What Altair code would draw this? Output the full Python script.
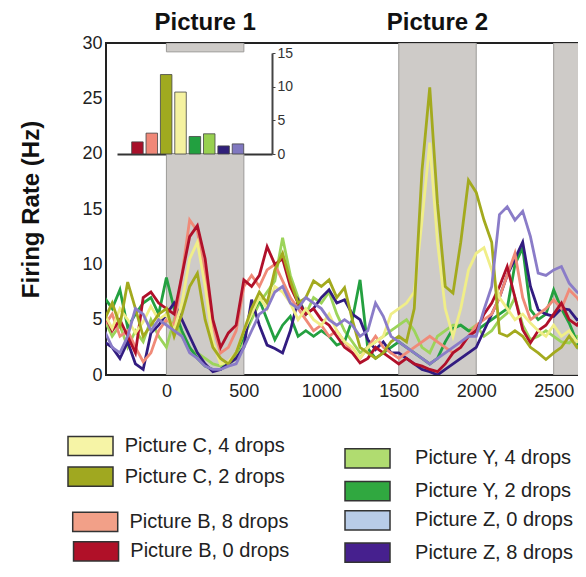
import altair as alt
import pandas as pd

# ---------------- data ----------------
t_ms = list(range(-400, 2701, 50))

c4 = [5.5, 4.2, 6.0, 5.0, 3.8, 4.8, 6.2, 5.0,
      5.5, 4.0, 6.5, 10.5, 12.0, 8.0, 3.0, 1.0, 1.2, 2.0,
      4.0, 5.5, 7.0, 6.0, 8.0, 7.5, 6.5, 5.0, 6.0, 5.0,
      4.5, 5.5, 4.0, 3.0, 2.5, 1.5, 2.5, 3.0, 3.5, 5.5,
      6.0, 6.5, 7.5, 14.0, 21.0, 12.0, 6.0, 3.5, 6.0, 9.5,
      11.0, 11.5, 9.5, 7.0, 6.0, 5.0, 5.5, 4.7, 4.0, 3.5,
      4.5, 3.5, 4.0, 3.0, 3.5]
c2 = [5.0, 6.5, 4.5, 8.4, 6.0, 3.5, 4.5, 5.5,
      6.0, 3.5, 5.5, 8.0, 9.2, 5.0, 2.5, 1.5, 1.0, 2.0,
      4.0, 6.0, 7.5, 6.5, 9.5, 11.0, 8.5, 6.5, 7.0, 8.5,
      8.0, 8.6, 7.0, 7.9, 5.0, 2.5, 2.0, 1.5, 2.0, 3.0,
      3.5, 3.0, 6.0, 18.5, 26.0, 15.5, 8.0, 7.4, 12.0, 17.6,
      16.5, 14.0, 12.0, 3.8, 3.5, 4.0, 3.5, 2.5, 2.0, 1.4,
      2.0, 2.5, 3.5, 2.5, 3.0]
b8 = [4.5, 5.5, 3.5, 4.0, 2.5, 1.2, 2.0, 4.0,
      5.0, 4.5, 9.0, 14.0, 13.0, 9.0, 4.5, 2.0, 2.5, 4.0,
      8.0, 9.0, 8.0, 9.5, 10.0, 8.5, 7.0, 6.0, 5.0, 4.0,
      4.5, 3.5, 4.0, 3.0, 2.0, 1.5, 2.5, 3.5, 2.5, 2.0,
      1.5, 2.0, 2.5, 3.0, 3.5, 3.0, 2.5, 2.0, 2.5, 3.5,
      4.5, 5.0, 5.5, 7.0, 9.0, 11.0, 7.0, 5.0, 5.5, 6.0,
      6.8, 6.0, 7.7, 7.0, 6.0]
b0 = [5.5, 4.0, 5.0, 3.5, 2.0, 7.0, 7.5, 6.5,
      6.0, 5.5, 9.0, 12.5, 13.5, 10.5, 5.0, 2.5, 3.8, 4.5,
      8.6, 8.0, 9.0, 11.6, 10.0, 10.5, 8.0, 6.5, 5.5, 6.0,
      5.0, 4.5, 3.5, 2.5, 2.0, 1.1, 1.5, 2.5, 2.0, 1.5,
      1.0, 1.5, 1.0, 0.8, 0.5, 0.3, 1.0, 2.0, 2.5, 3.5,
      4.0, 5.5, 6.5, 8.0, 9.8, 7.0, 4.1, 2.9, 4.0, 4.5,
      5.5, 6.5, 5.0, 4.5, 5.5]
y4 = [5.0, 3.5, 4.5, 2.5, 4.0, 3.0, 5.0, 3.5,
      2.5, 5.0, 3.5, 2.3, 2.0, 1.5, 1.0, 0.8, 1.0, 1.5,
      3.5, 5.0, 6.5, 7.5, 8.5, 12.4, 9.0, 7.0, 5.5, 7.0,
      6.5, 7.5, 5.5, 4.0, 3.0, 2.0, 2.5, 3.0, 3.5, 4.0,
      4.5, 5.0, 4.0, 2.5, 2.0, 3.5, 4.0, 4.5, 4.5, 4.0,
      4.5, 3.5, 4.0, 5.0, 5.6, 7.0, 4.5, 3.2, 3.5, 4.0,
      3.5, 3.0, 2.9, 3.5, 3.0]
y2 = [7.0, 6.0, 7.7, 4.3, 5.5, 6.5, 7.0, 5.5,
      8.8, 6.0, 4.0, 2.5, 1.5, 0.8, 0.5, 0.5, 1.0, 2.0,
      3.5, 5.5, 6.8, 5.0, 3.2, 4.5, 5.3, 3.5, 4.0, 3.5,
      4.0, 3.5, 2.7, 3.0, 5.0, 8.6, 2.4, 1.5, 2.0, 2.5,
      3.0, 2.5, 2.0, 1.5, 1.0, 1.5, 3.0, 4.2, 4.5, 4.0,
      4.0, 4.5, 5.0, 5.5, 6.0, 10.0, 11.5, 5.9, 5.0, 5.5,
      7.7, 6.0, 4.7, 3.0, 0.7]
z0 = [4.0, 2.5, 2.0, 3.5, 6.0, 5.5, 4.0, 5.0,
      4.5, 4.0, 3.5, 2.0, 1.5, 0.8, 0.5, 0.5, 0.8, 1.0,
      2.5, 4.0, 5.5, 6.0, 7.5, 8.0, 6.5, 6.0, 7.0, 6.5,
      6.0, 5.0, 4.5, 5.0, 4.5, 3.5, 4.0, 6.5, 5.3, 3.5,
      3.0, 2.5, 2.0, 1.5, 1.0, 1.5, 2.0, 2.5, 3.0, 3.5,
      3.5, 5.9, 8.0, 14.5, 15.2, 14.0, 14.8, 12.5, 9.2, 9.0,
      9.5, 9.8, 8.3, 7.5, 7.1]
z8 = [3.0, 2.5, 1.5, 3.0, 1.0, 0.5, 3.8, 4.5,
      5.5, 6.5, 5.0, 3.5, 2.0, 1.0, 0.3, 0.5, 1.0, 1.5,
      2.5, 6.8, 4.5, 2.7, 2.4, 2.0, 4.0, 6.8, 5.5, 6.0,
      7.0, 7.7, 6.5, 6.8, 5.5, 5.0, 3.2, 2.3, 3.0, 2.0,
      2.0, 1.5, 1.0, 0.5, 0.3, 0.0, 0.5, 1.0, 1.5, 2.0,
      2.5, 4.0, 5.5, 7.0, 9.0, 10.5, 12.0, 8.0, 5.9, 5.5,
      5.3, 6.0, 5.9, 5.0, 5.3]

series_names = ["Picture Y, 4 drops", "Picture Y, 2 drops", "Picture Z, 8 drops",
                "Picture B, 8 drops", "Picture B, 0 drops", "Picture C, 4 drops",
                "Picture C, 2 drops", "Picture Z, 0 drops"]
series_values = [y4, y2, z8, b8, b0, c4, c2, z0]
line_colors = ["#9cd45a", "#24a040", "#321c80", "#f08a78", "#b0102a", "#f0ee88",
               "#a3aa1e", "#8a7cc8"]

# inset bar chart (mean response)
bar_names = ["Picture B, 0 drops", "Picture B, 8 drops", "Picture C, 2 drops",
             "Picture C, 4 drops", "Picture Y, 2 drops", "Picture Y, 4 drops",
             "Picture Z, 8 drops", "Picture Z, 0 drops"]
bar_values = [1.8, 3.1, 11.8, 9.2, 2.6, 3.0, 1.2, 1.5]
bar_colors = ["#a8102a", "#f08878", "#a0aa20", "#f5f2a0", "#22a040", "#98d050",
              "#30207a", "#8078c0"]

# stimulus periods (ms)
shade_start = [0, 0, 1500, 2500]
shade_end = [500, 500, 2000, 2700]
shade_low = [0, 29.2, 0, 0]
shade_high = [20, 30, 30, 30]

title_text = ["Picture 1", "Picture 2"]
title_at = [250, 1750]

legend_labels = ["Picture C, 4 drops", "Picture C, 2 drops", "Picture B, 8 drops",
                 "Picture B, 0 drops", "Picture Y, 4 drops", "Picture Y, 2 drops",
                 "Picture Z, 0 drops", "Picture Z, 8 drops"]
legend_colors = ["#f6f4a6", "#a0a820", "#f2a088", "#b01028", "#b0dc70", "#30a840",
                 "#b8cce8", "#46208e"]

# ---------------- layout ----------------
legend_col = [0, 0, 0, 0, 1, 1, 1, 1]
legend_row = [0, 0.99, 2.45, 3.4, 0.4, 1.455, 2.4, 3.44]
legend_indent = [0, 0, 0.017, 0.02, 0, 0, 0, 0]
legend_text_gap = [0.205, 0.205, 0.205, 0.205, 0.253, 0.253, 0.253, 0.253]

FONT = "Liberation Sans"

# ---------------- tables ----------------
rows = []
for name, vals in zip(series_names, series_values):
    for t, v in zip(t_ms, vals):
        rows.append({"t": t, "rate": v, "series": name})
lines_df = pd.DataFrame(rows)

shade_df = pd.DataFrame({"x": shade_start, "x2": shade_end, "y": shade_low, "y2": shade_high})
title_df = pd.DataFrame({"x": title_at, "label": title_text})
bars_df = pd.DataFrame({"cond": bar_names, "rate": bar_values,
                        "pos": [i + 1 for i in range(len(bar_names))]})

leg_df = pd.DataFrame({
    "label": legend_labels,
    "color": legend_colors,
    "sx": [c + i for c, i in zip(legend_col, legend_indent)],
    "sx2": [c + i + 0.1625 for c, i in zip(legend_col, legend_indent)],
    "tx": [c + i + g for c, i, g in zip(legend_col, legend_indent, legend_text_gap)],
    "ry": [r - 0.31 for r in legend_row],
    "ry2": [r + 0.31 for r in legend_row],
    "row": legend_row,
})

W, H = 472, 332

xs = alt.Scale(domain=[-390, 2657], nice=False, zero=False)
ys = alt.Scale(domain=[0, 30], nice=False)

shade = alt.Chart(shade_df).mark_rect(
    fill="#cecbc8", stroke="#9c9a98", strokeWidth=1, clip=True
).encode(
    x=alt.X("x:Q", scale=xs, axis=alt.Axis(
        values=[0, 500, 1000, 1500, 2000, 2500], format="d", title=None, grid=False,
        domain=False, ticks=False, tickSize=0, labelFontSize=18, labelFont=FONT,
        labelColor="#222", labelPadding=7, labelFlush=False)),
    x2="x2:Q",
    y=alt.Y("y:Q", scale=ys, axis=alt.Axis(
        values=[0, 5, 10, 15, 20, 25, 30], title="Firing Rate (Hz)", grid=False,
        domain=False, ticks=False, tickSize=0, labelFontSize=18, labelFont=FONT,
        labelColor="#222", labelPadding=4, titleFontSize=24, titleFont=FONT,
        titleFontWeight="bold", titleColor="#111", titleX=-63)),
    y2="y2:Q",
)

lines = alt.Chart(lines_df).mark_line(strokeWidth=2.8, clip=True).encode(
    x=alt.X("t:Q", scale=xs),
    y=alt.Y("rate:Q", scale=ys),
    color=alt.Color("series:N", scale=alt.Scale(domain=series_names, range=line_colors),
                    legend=None),
)

titles = alt.Chart(title_df).mark_text(
    fontSize=24, font=FONT, fontWeight="bold", color="#111", dy=-20, baseline="middle"
).encode(
    x=alt.X("x:Q", scale=xs),
    y=alt.value(0),
    text="label:N",
)

main = alt.layer(shade, lines, titles)

inset = alt.Chart(bars_df).mark_bar(stroke="#444", strokeWidth=0.8, width=11.5).encode(
    x=alt.X("pos:Q",
            scale=alt.Scale(domain=[-0.074, 10.02], range=[11, 166], nice=False, zero=False),
            axis=alt.Axis(orient="top", offset=-111, labels=False, ticks=False, title=None,
                          domain=True, domainColor="#333", domainWidth=2, grid=False)),
    y=alt.Y("rate:Q", scale=alt.Scale(domain=[0, 15], range=[111, 10], nice=False),
            axis=alt.Axis(orient="right", offset=-(W - 166), values=[0, 5, 10, 15], title=None,
                          grid=False, domainColor="#444", domainWidth=2, tickColor="#444",
                          tickSize=3, labelFontSize=14, labelFont=FONT, labelColor="#333",
                          labelPadding=2)),
    color=alt.Color("cond:N", scale=alt.Scale(domain=bar_names, range=bar_colors), legend=None),
)

lx = alt.Scale(domain=[0, 1], range=[-38, 239], nice=False, zero=False)
ly = alt.Scale(domain=[0, 1], range=[403, 434], nice=False, zero=False)

leg_sw = alt.Chart(leg_df).mark_rect(stroke="#333", strokeWidth=1.5).encode(
    x=alt.X("sx:Q", scale=lx, axis=None),
    x2="sx2:Q",
    y=alt.Y("ry:Q", scale=ly, axis=None),
    y2="ry2:Q",
    color=alt.Color("label:N", scale=alt.Scale(domain=legend_labels, range=legend_colors),
                    legend=None),
)
leg_tx = alt.Chart(leg_df).mark_text(
    align="left", baseline="middle", fontSize=20, font=FONT, color="#222"
).encode(
    x=alt.X("tx:Q", scale=lx, axis=None),
    y=alt.Y("row:Q", scale=ly, axis=None),
    text="label:N",
)
legend = alt.layer(leg_sw, leg_tx)

chart = alt.layer(main, inset, legend).resolve_scale(
    x="independent", y="independent", color="independent"
).properties(
    width=W, height=H,
    autosize=alt.AutoSizeParams(type="none"),
    padding={"left": 98, "top": 35, "right": 0, "bottom": 188},
).configure_view(stroke="#222", strokeWidth=2)

chart.save("out.html", embed_options={"renderer": "svg", "actions": False})
